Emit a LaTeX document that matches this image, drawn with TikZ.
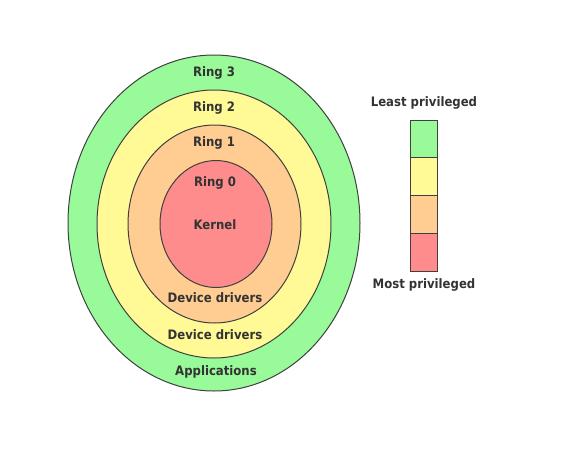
\documentclass[tikz,border=0pt]{standalone}
\usepackage{fontspec}
\setmainfont{DejaVu Sans Condensed}
\definecolor{ringgreen}{RGB}{152,250,152}
\definecolor{ringyellow}{RGB}{255,250,150}
\definecolor{ringorange}{RGB}{255,204,145}
\definecolor{ringred}{RGB}{255,140,140}
\tikzset{
  ringline/.style={draw=black!75, line width=1pt},
  ringlabel/.style={inner sep=0pt, font=\fontsize{13}{15}\selectfont\bfseries, text=black!80}
}
\begin{document}
\begin{tikzpicture}[x=1pt,y=-1pt]
\useasboundingbox (0,0) rectangle (562,450);

\draw[ringline, fill=ringgreen]  (214,223) ellipse (146 and 168); % Ring 3
\draw[ringline, fill=ringyellow] (214,224) ellipse (117 and 134); % Ring 2
\draw[ringline, fill=ringorange] (214.5,224) ellipse (86.5 and 99); % Ring 1
\draw[ringline, fill=ringred]    (216,224) ellipse (56 and 63.5);  % Ring 0

\node[ringlabel] (r3) at (214,73) {Ring 3};
\node[ringlabel] (r2) at (214,108) {Ring 2};
\node[ringlabel] (r1) at (214,143) {Ring 1};
\node[ringlabel] (r0) at (215,183) {Ring 0};
\node[ringlabel] (kern) at (215,225) {Kernel};
\node[ringlabel] (drv1) at (215,298) {Device drivers};
\node[ringlabel] (drv2) at (215,335) {Device drivers};
\node[ringlabel] (apps) at (216,372) {Applications};

% Legend
\foreach \c [count=\i from 0] in {ringgreen,ringyellow,ringorange,ringred}
  \draw[ringline, fill=\c] (410,120+37.75*\i) rectangle (437,157.75+37.75*\i);

\node[ringlabel] (least) at (424,103) {Least privileged};
\node[ringlabel] (most) at (424,285) {Most privileged};

\end{tikzpicture}
\end{document}
